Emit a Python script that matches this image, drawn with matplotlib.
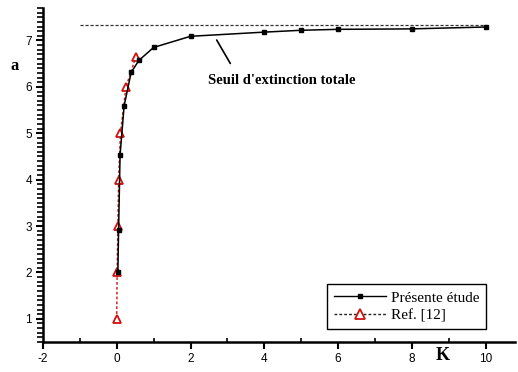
import matplotlib
matplotlib.use("Agg")
import matplotlib.pyplot as plt
from matplotlib.lines import Line2D
from matplotlib.ticker import MultipleLocator

plt.rcParams["axes.unicode_minus"] = False

# Présente étude
k_present = [0.03, 0.05, 0.09, 0.2, 0.39, 0.6, 1.0, 2.0, 4.0, 5.0, 6.0, 8.0, 10.0]
a_present = [2.0, 2.92, 4.53, 5.59, 6.31, 6.57, 6.85, 7.09, 7.18, 7.22, 7.24, 7.25, 7.29]

# Ref. [12]
k_ref = [0.0, 0.01, 0.03, 0.05, 0.1, 0.25, 0.52]
a_ref = [1.0, 2.0, 3.0, 4.0, 5.0, 6.0, 6.65]

# Seuil d'extinction totale
seuil_k = [-1.0, 10.0]
seuil_a = 7.34

serif = ["Liberation Serif", "DejaVu Serif"]
sans = ["Liberation Sans", "DejaVu Sans"]

fig = plt.figure(figsize=(5.18, 3.72), dpi=100)
ax = fig.add_axes([43 / 518, 30 / 372, (515 - 43) / 518, (364 - 30) / 372])

ax.plot(seuil_k, [seuil_a, seuil_a], color="#333333", lw=0.9,
        linestyle=(0, (2.5, 1.5)), zorder=2)

ax.plot(k_ref, a_ref, color="#d01010", lw=1.0, linestyle=(0, (2, 1.5)),
        marker="^", markersize=5.5, markerfacecolor="white",
        markeredgecolor="#d01010", markeredgewidth=1.3, zorder=3)
ax.plot(k_present, a_present, color="black", lw=1.1, marker="s",
        markersize=2.8, zorder=4)

ax.annotate("Seuil d'extinction totale", xy=(2.71, 7.01), xytext=(2.48, 6.14),
            ha="left", va="center", fontsize=10.5, fontweight="bold",
            family=serif,
            arrowprops=dict(arrowstyle="-", color="black", lw=1.2,
                            shrinkA=0, shrinkB=0,
                            relpos=(0.15, 1.8)))

ax.set_xlim(-2, 10.8)
ax.set_ylim(0.5, 7.7)
ax.xaxis.set_major_locator(MultipleLocator(2))
ax.xaxis.set_minor_locator(MultipleLocator(1))
ax.yaxis.set_major_locator(MultipleLocator(1))
ax.yaxis.set_minor_locator(MultipleLocator(0.1))

for side in ("top", "right"):
    ax.spines[side].set_visible(False)
for side in ("left", "bottom"):
    ax.spines[side].set_linewidth(1.8)

ax.tick_params(axis="both", which="major", direction="out", length=5,
               width=1.5, labelsize=8.5, pad=3)
ax.tick_params(axis="y", which="minor", direction="out", length=4, width=1.2)
ax.tick_params(axis="x", which="minor", direction="in", length=3, width=1.2)
for lbl in ax.get_xticklabels() + ax.get_yticklabels():
    lbl.set_family(sans)

fig.text(15 / 518, 1 - 66 / 372, "a", fontsize=12, fontweight="bold",
         family=serif, ha="center", va="center")
fig.text(443 / 518, 1 - 356 / 372, "K", fontsize=13, fontweight="bold",
         family=serif, ha="center", va="center")

handles = [
    Line2D([], [], color="black", lw=1.0, marker="s", markersize=3.2),
    Line2D([], [], color="#222222", lw=1.0, linestyle=(0, (2, 1.5)),
           marker="^", markersize=6.5, markerfacecolor="white",
           markeredgecolor="#d01010", markeredgewidth=1.3),
]
leg = ax.legend(handles, ["Présente étude", "Ref. [12]"],
                loc="lower right", bbox_to_anchor=(486 / 518, 43 / 372),
                bbox_transform=fig.transFigure,
                prop={"family": serif, "size": 11}, frameon=True,
                fancybox=False, edgecolor="black", framealpha=1,
                handlelength=3.4, handletextpad=0.3, borderpad=0.45,
                labelspacing=0.25, borderaxespad=0)
leg.get_frame().set_linewidth(1.0)

fig.savefig("out.png", dpi=100)
